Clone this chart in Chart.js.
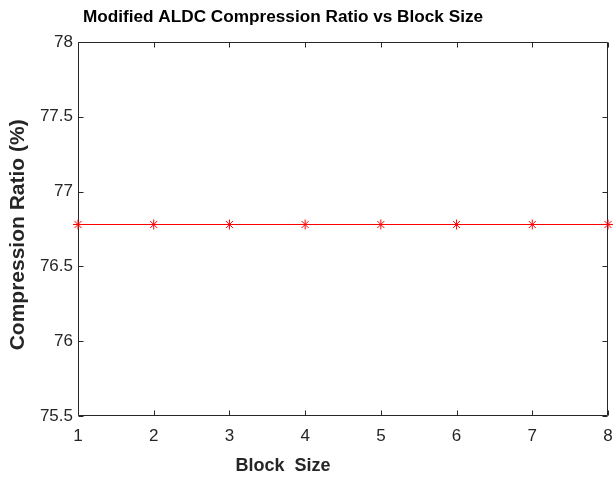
<!DOCTYPE html>
<html>
<head>
<meta charset="utf-8">
<script src="https://cdn.jsdelivr.net/npm/chart.js@4.4.0/dist/chart.umd.min.js"></script>
<style>
  body { margin: 0; background: #fff; }
  canvas { display: block; }
</style>
</head>
<body>
<canvas id="chart" width="614" height="478"></canvas>
<script>
// data
const blockSize = [1, 2, 3, 4, 5, 6, 7, 8];
const ratio = [76.78, 76.78, 76.78, 76.78, 76.78, 76.78, 76.78, 76.78];
const xTicks = [1, 2, 3, 4, 5, 6, 7, 8];
const yTicks = [75.5, 76, 76.5, 77, 77.5, 78];

const titleText = 'Modified ALDC Compression Ratio vs Block Size';
const xLabel = 'Block  Size';
const yLabel = 'Compression Ratio (%)  ';

const axisColor = '#262626';
const fontName = '"Liberation Sans", Arial, Helvetica, sans-serif';

// MATLAB style box with inward ticks + title / xlabel text
const matlabAxes = {
    id: 'matlabAxes',
    beforeDatasetsDraw(chart) {
        const ctx = chart.ctx;
        const a = chart.chartArea;
        const xs = chart.scales.x;
        const ys = chart.scales.y;
        const L = Math.round(a.left) + 0.5, R = Math.round(a.right) - 0.5;
        const T = Math.round(a.top) + 0.5, B = Math.round(a.bottom) - 0.5;
        const tl = 5;
        ctx.save();
        ctx.strokeStyle = axisColor;
        ctx.lineWidth = 1;
        ctx.beginPath();
        ctx.rect(L, T, R - L, B - T);
        xTicks.forEach(v => {
            const px = Math.round(xs.getPixelForValue(v)) + 0.5;
            ctx.moveTo(px, B); ctx.lineTo(px, B - tl);
            ctx.moveTo(px, T); ctx.lineTo(px, T + tl);
        });
        yTicks.forEach(v => {
            const py = Math.round(ys.getPixelForValue(v)) + 0.5;
            ctx.moveTo(L, py); ctx.lineTo(L + tl, py);
            ctx.moveTo(R, py); ctx.lineTo(R - tl, py);
        });
        ctx.stroke();
        ctx.restore();
    },
    afterDraw(chart) {
        const ctx = chart.ctx;
        ctx.save();
        ctx.textAlign = 'center';
        ctx.textBaseline = 'middle';
        ctx.fillStyle = '#000';
        ctx.font = 'bold 17.2px ' + fontName;
        ctx.fillText(titleText, 283, 17);
        ctx.fillStyle = axisColor;
        ctx.font = 'bold 18px ' + fontName;
        ctx.fillText(xLabel, 283, 466);
        ctx.restore();
    }
};

const ctx = document.getElementById('chart').getContext('2d');
const myChart = new Chart(ctx, {
    type: 'line',
    data: {
        datasets: [{
            data: blockSize.map((x, i) => ({ x: x, y: ratio[i] })),
            borderColor: '#ff0000',
            backgroundColor: '#ff0000',
            borderWidth: 1,
            pointStyle: 'star',
            pointRadius: 5,
            pointBorderWidth: 1,
            pointBorderColor: '#ff0000',
            pointBackgroundColor: '#ff0000',
            tension: 0,
            clip: false
        }]
    },
    options: {
        responsive: false,
        animation: false,
        devicePixelRatio: 1,
        layout: { padding: { top: 42, right: 3, bottom: 0, left: 0 } },
        plugins: {
            legend: { display: false },
            tooltip: { enabled: false }
        },
        scales: {
            x: {
                type: 'linear',
                min: 1,
                max: 8,
                afterBuildTicks: s => { s.ticks = xTicks.map(v => ({ value: v })); },
                afterFit: s => { s.height = 62; s.paddingLeft = 0; s.paddingRight = 0; },
                grid: { display: false, drawTicks: false },
                border: { display: false },
                ticks: {
                    padding: 10,
                    color: axisColor,
                    font: { family: fontName, size: 17 },
                    maxRotation: 0,
                    autoSkip: false
                }
            },
            y: {
                type: 'linear',
                min: 75.5,
                max: 78,
                afterBuildTicks: s => { s.ticks = yTicks.map(v => ({ value: v })); },
                afterFit: s => { s.width = 78; s.paddingTop = 0; s.paddingBottom = 0; },
                grid: { display: false, drawTicks: false },
                border: { display: false },
                ticks: {
                    padding: 5,
                    color: axisColor,
                    font: { family: fontName, size: 17 },
                    callback: v => String(v)
                },
                title: {
                    display: true,
                    text: yLabel,
                    color: axisColor,
                    font: { family: fontName, size: 21, weight: 'bold' },
                    padding: { top: 6, bottom: 0 }
                }
            }
        }
    },
    plugins: [matlabAxes]
});
</script>
</body>
</html>
